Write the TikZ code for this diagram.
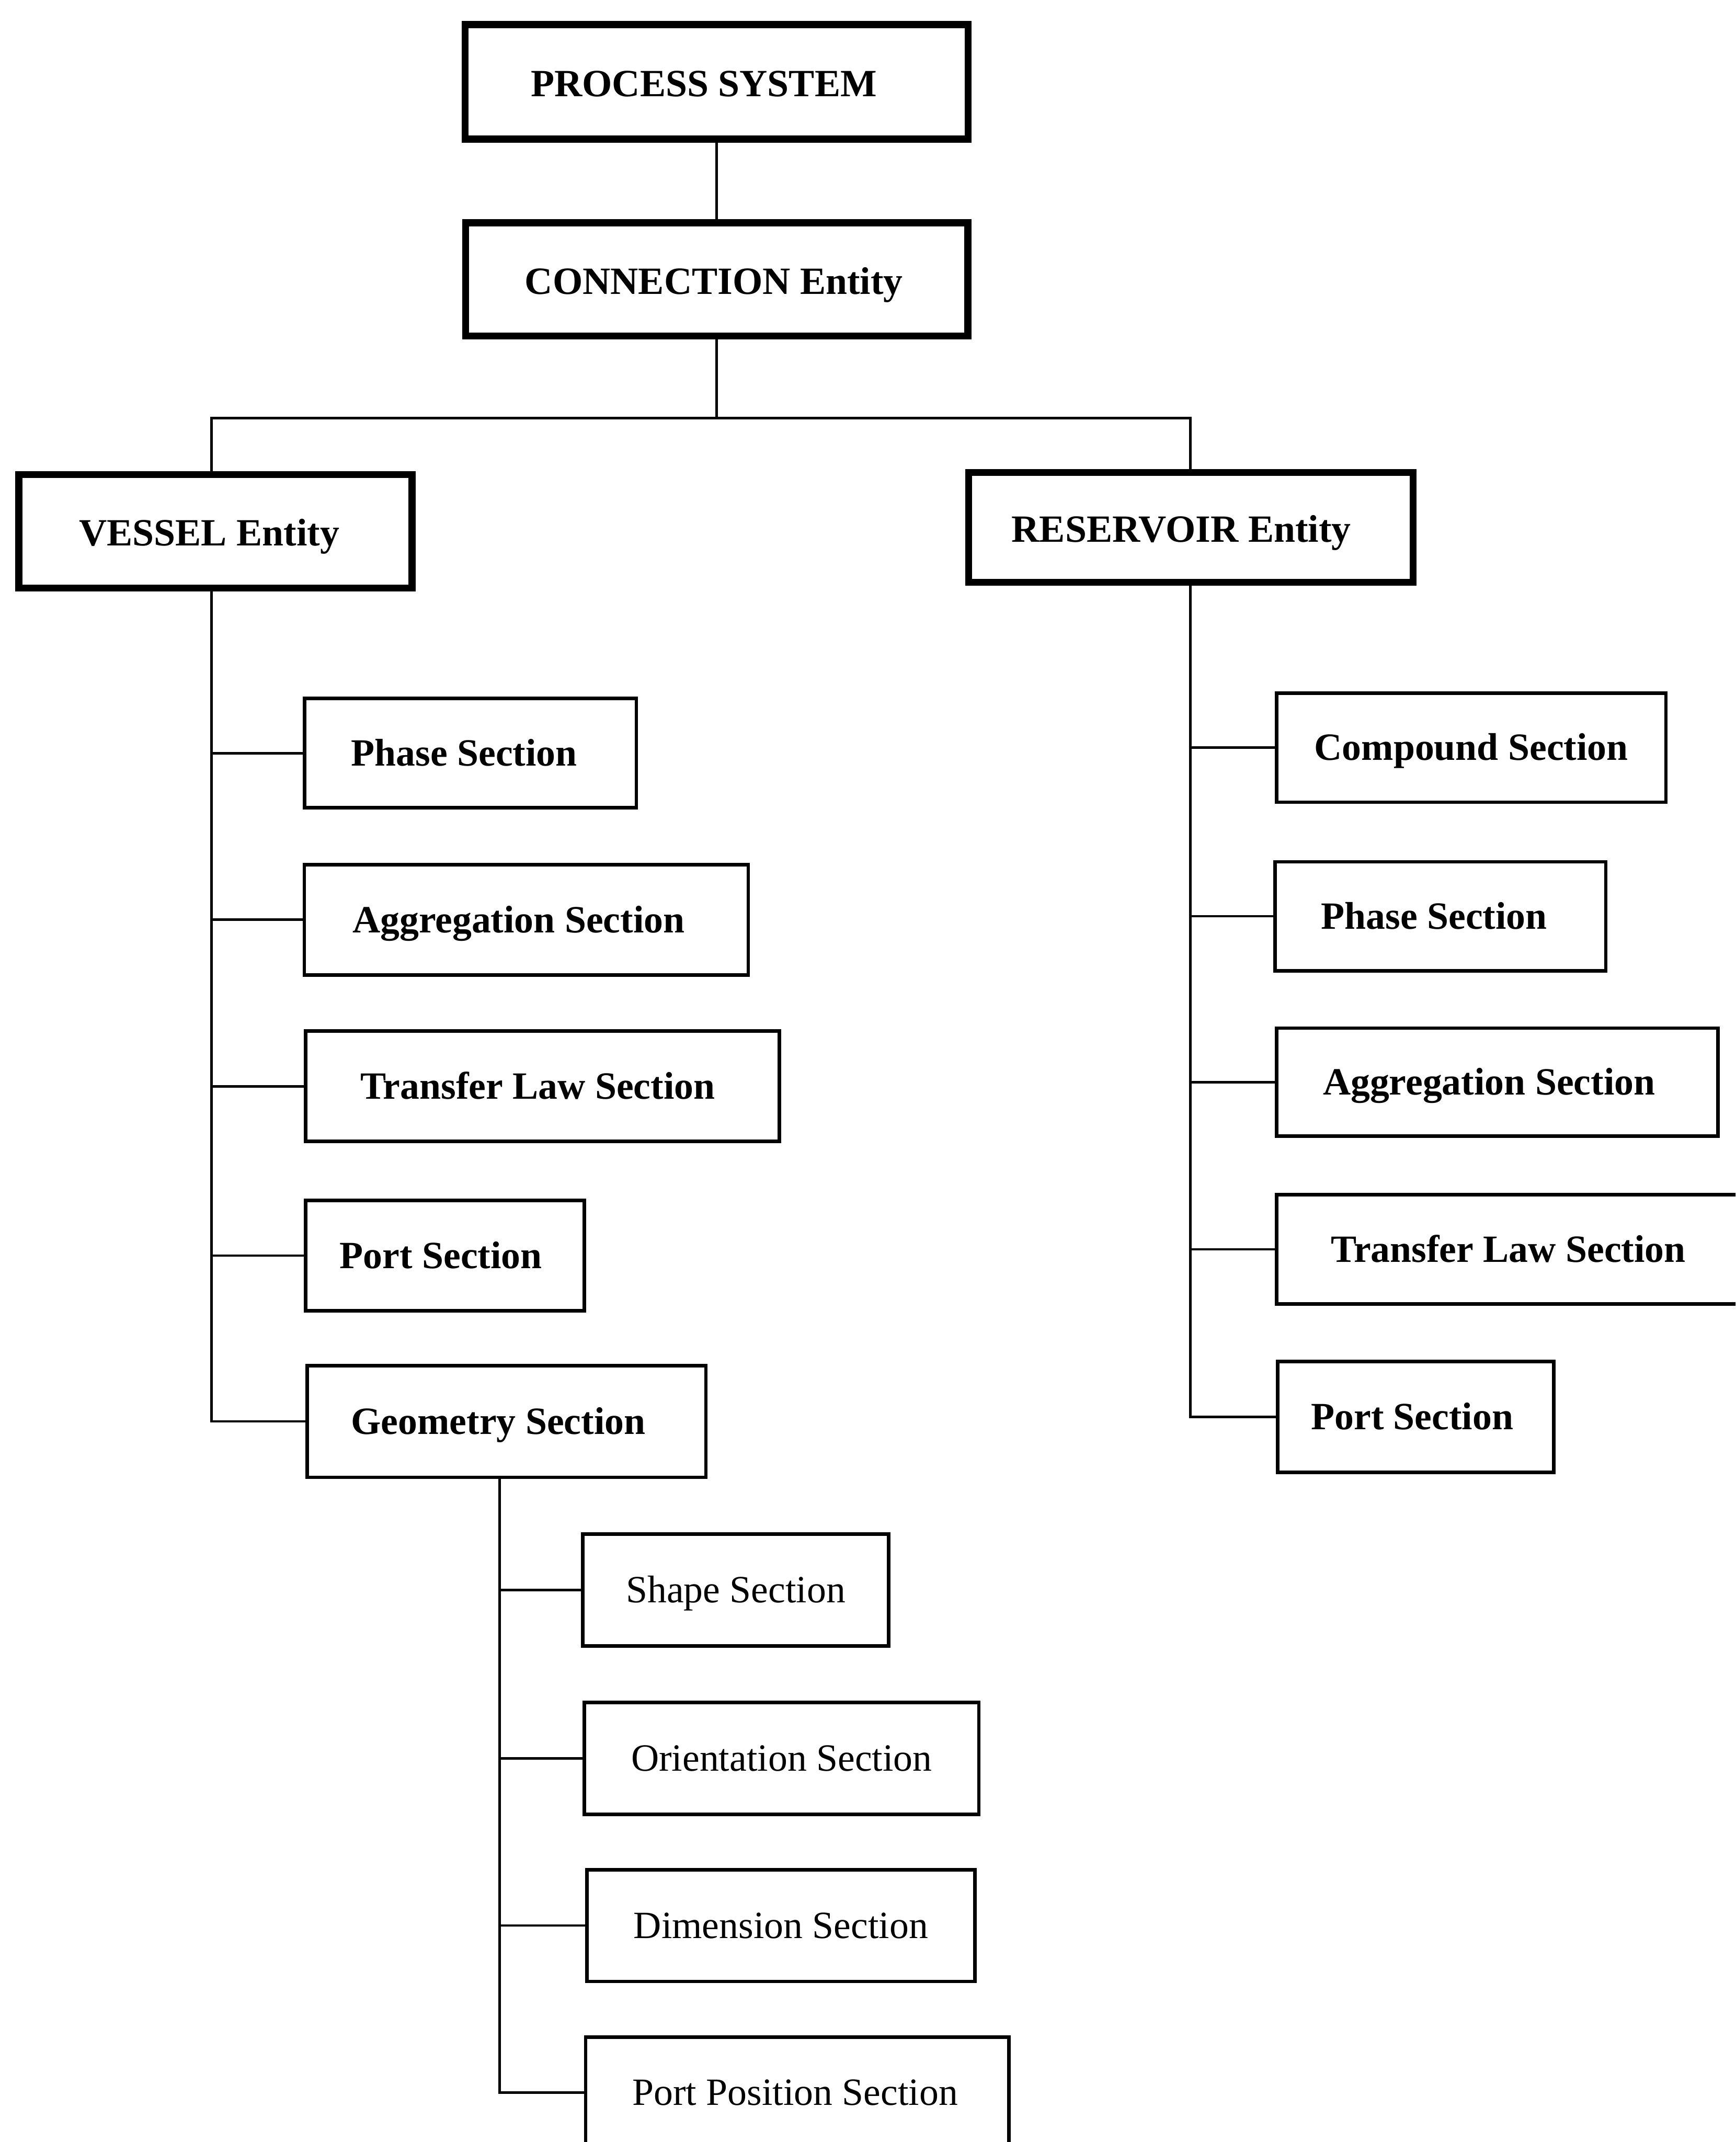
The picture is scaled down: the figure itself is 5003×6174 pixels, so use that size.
\documentclass[tikz,border=0pt]{standalone}
\usepackage{fontspec}
\setmainfont{Liberation Serif}
\newcommand\boxfont{\fontsize{31.6pt}{38pt}\selectfont}
\begin{document}
\begin{tikzpicture}[x=0.01cm,y=-0.01cm,
  box/.style={draw, inner sep=0pt, text height=0.89cm, text depth=0.16cm},
  entity/.style={box, line width=5.7pt, font=\boxfont\bfseries, text depth=0.04cm},
  sect/.style={box, line width=2.9pt, font=\boxfont\bfseries},
  subsect/.style={box, line width=2.9pt, font=\boxfont},
  link/.style={line width=2pt}]
\useasboundingbox (0,0) rectangle (5003,6174);
\fill[white] (0,0) rectangle (5003,6174);
\clip (0,0) rectangle (5003,6174);

% top of the hierarchy
\node[entity, minimum width=14.49cm, minimum height=3.30cm] (proc) at (2066,236) {PROCESS SYSTEM\kern0.74cm};
\node[entity, minimum width=14.47cm, minimum height=3.26cm] (conn) at (2066,805) {CONNECTION Entity\kern0.16cm};
\node[entity, minimum width=11.33cm, minimum height=3.27cm] (vessel) at (621,1531) {VESSEL Entity\kern0.36cm};
\node[entity, minimum width=12.80cm, minimum height=3.16cm] (reservoir) at (3433,1520) {RESERVOIR Entity\kern0.55cm};

% vessel sections
\node[sect, minimum width=9.56cm, minimum height=3.15cm] (phaseL) at (1356,2171) {Phase Section\kern0.36cm};
\node[sect, minimum width=12.79cm, minimum height=3.18cm] (aggL) at (1517,2651) {Aggregation Section\kern0.44cm};
\node[sect, minimum width=13.65cm, minimum height=3.18cm] (transL) at (1564,3131) {Transfer Law Section\kern0.28cm};
\node[sect, minimum width=8.03cm, minimum height=3.18cm] (portL) at (1283,3619) {Port Section\kern0.24cm};
\node[sect, minimum width=11.49cm, minimum height=3.22cm] (geom) at (1460,4097) {Geometry Section\kern0.47cm};

% geometry sub-sections
\node[subsect, minimum width=8.81cm, minimum height=3.22cm] (shape) at (2121,4583) {Shape Section};
\node[subsect, minimum width=11.37cm, minimum height=3.22cm] (orient) at (2253,5068) {Orientation Section};
\node[subsect, minimum width=11.18cm, minimum height=3.22cm] (dim) at (2251,5550) {Dimension Section};
\node[subsect, minimum width=12.19cm, minimum height=3.18cm] (portpos) at (2298,6031) {Port Position Section\kern0.12cm};

% reservoir sections
\node[sect, minimum width=11.22cm, minimum height=3.14cm] (compound) at (4241,2155) {Compound Section};
\node[sect, minimum width=9.53cm, minimum height=3.14cm] (phaseR) at (4152,2641) {Phase Section\kern0.36cm};
\node[sect, minimum width=12.72cm, minimum height=3.11cm] (aggR) at (4316,3119) {Aggregation Section\kern0.47cm};
\node[sect, minimum width=13.60cm, minimum height=3.15cm] (transR) at (4360,3601) {Transfer Law Section\kern0.24cm};
\node[sect, minimum width=7.95cm, minimum height=3.19cm] (portR) at (4081,4084) {Port Section\kern0.2cm};

% trunk lines
\coordinate (vtrunk) at (610,0);
\coordinate (rtrunk) at (3431,0);
\coordinate (gtrunk) at (1440,0);
\coordinate (bus) at (0,1205);

\draw[link] (proc.south) -- (conn.north);
\draw[link] (conn.south) -- (conn.south |- bus);
\draw[link] (vtrunk |- vessel.north) -- (vtrunk |- bus) -- (rtrunk |- bus) -- (rtrunk |- reservoir.north);

\draw[link] (vtrunk |- vessel.south) |- (geom.west);
\foreach \b in {phaseL, aggL, transL, portL}
  \draw[link] (vtrunk |- \b.west) -- (\b.west);

\draw[link] (rtrunk |- reservoir.south) |- (portR.west);
\foreach \b in {compound, phaseR, aggR, transR}
  \draw[link] (rtrunk |- \b.west) -- (\b.west);

\draw[link] (gtrunk |- geom.south) |- (portpos.west);
\foreach \b in {shape, orient, dim}
  \draw[link] (gtrunk |- \b.west) -- (\b.west);
\end{tikzpicture}
\end{document}
